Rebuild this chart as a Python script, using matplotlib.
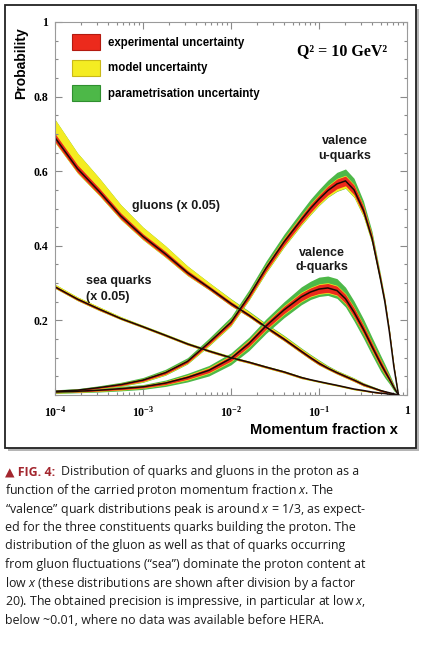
import matplotlib
matplotlib.use("Agg")
import matplotlib.pyplot as plt
import numpy as np
from matplotlib.patches import Patch, Rectangle
from matplotlib.ticker import MultipleLocator, LogLocator, NullFormatter

plt.rcParams['mathtext.fontset'] = 'custom'
plt.rcParams['mathtext.it'] = 'Open Sans:italic'
plt.rcParams['mathtext.rm'] = 'Open Sans'

# momentum fraction grid
x = [1e-4, 1.8e-4, 3.2e-4, 5.6e-4, 1e-3, 1.8e-3, 3.2e-3, 5.6e-3, 0.01, 0.016, 0.025, 0.04, 0.063,
     0.08, 0.1, 0.126, 0.16, 0.2, 0.25, 0.32, 0.4, 0.5, 0.56, 0.63, 0.71, 0.8]

# gluons (x 0.05)
glu = [0.69, 0.607, 0.545, 0.48, 0.425, 0.378, 0.328, 0.288, 0.245, 0.214, 0.182, 0.15, 0.117,
       0.1, 0.085, 0.072, 0.06, 0.05, 0.04, 0.028, 0.02, 0.012, 0.009, 0.006, 0.003, 0.0]
glu_exp = [0.011, 0.010, 0.009, 0.008, 0.007, 0.007, 0.006, 0.005, 0.005, 0.004, 0.004, 0.004, 0.004,
           0.004, 0.004, 0.003, 0.003, 0.003, 0.003, 0.003, 0.002, 0.002, 0.002, 0.001, 0.001, 0.0]
glu_mod_up = [0.038, 0.032, 0.027, 0.022, 0.018, 0.015, 0.012, 0.009, 0.007, 0.005, 0.004, 0.004, 0.003,
              0.003, 0.003, 0.002, 0.002, 0.002, 0.002, 0.001, 0.001, 0.001, 0.0, 0.0, 0.0, 0.0]
glu_mod_dn = [0.002] * 7 + [0.001] * 14 + [0.0] * 5
glu_par_up = [0.0] * 8 + [0.001, 0.002, 0.002, 0.002, 0.002, 0.002, 0.002, 0.002, 0.001, 0.001,
                          0.001, 0.001, 0.001, 0.0, 0.0, 0.0, 0.0, 0.0]
glu_par_dn = [0.0] * 26

# sea quarks (x 0.05)
sea = [0.29, 0.257, 0.23, 0.205, 0.183, 0.16, 0.137, 0.118, 0.1, 0.088, 0.075, 0.062, 0.047,
       0.041, 0.036, 0.031, 0.026, 0.021, 0.016, 0.012, 0.008, 0.005, 0.004, 0.002, 0.001, 0.0]
sea_exp = [0.003, 0.003, 0.003, 0.002, 0.002, 0.002, 0.002, 0.002, 0.002, 0.002, 0.002, 0.002, 0.002,
           0.001, 0.001, 0.001, 0.001, 0.001, 0.001, 0.001, 0.001, 0.001, 0.0, 0.0, 0.0, 0.0]
sea_mod_up = [0.004, 0.003, 0.003, 0.003, 0.002, 0.002, 0.002, 0.002, 0.002, 0.001, 0.001, 0.001, 0.001,
              0.001, 0.001, 0.001, 0.001, 0.001, 0.0, 0.0, 0.0, 0.0, 0.0, 0.0, 0.0, 0.0]
sea_mod_dn = [0.001] * 20 + [0.0] * 6
sea_par_up = [0.0] * 26
sea_par_dn = [0.0] * 26

# valence u-quarks
uv = [0.01, 0.013, 0.02, 0.028, 0.04, 0.06, 0.09, 0.14, 0.195, 0.265, 0.34, 0.41, 0.47,
      0.5, 0.525, 0.548, 0.566, 0.574, 0.55, 0.495, 0.42, 0.31, 0.25, 0.17, 0.075, 0.0]
uv_exp = [0.002, 0.002, 0.002, 0.003, 0.003, 0.004, 0.004, 0.005, 0.006, 0.007, 0.008, 0.009, 0.010,
          0.011, 0.011, 0.012, 0.013, 0.013, 0.013, 0.011, 0.009, 0.007, 0.006, 0.005, 0.004, 0.0]
uv_mod_up = [0.001] * 8 + [0.002] * 14 + [0.001] * 3 + [0.0]
uv_mod_dn = [0.001, 0.001, 0.001, 0.001, 0.002, 0.002, 0.002, 0.003, 0.003, 0.003, 0.004, 0.004, 0.004,
             0.005, 0.005, 0.005, 0.006, 0.006, 0.006, 0.005, 0.004, 0.003, 0.003, 0.002, 0.002, 0.0]
uv_par_up = [0.001, 0.001, 0.002, 0.002, 0.003, 0.004, 0.005, 0.006, 0.007, 0.008, 0.009, 0.010, 0.011,
             0.012, 0.013, 0.014, 0.016, 0.017, 0.016, 0.012, 0.008, 0.005, 0.004, 0.003, 0.002, 0.0]
uv_par_dn = [0.001] * 24 + [0.0, 0.0]

# valence d-quarks
dv = [0.008, 0.01, 0.013, 0.017, 0.022, 0.032, 0.047, 0.066, 0.098, 0.138, 0.185, 0.228, 0.263,
      0.276, 0.284, 0.287, 0.28, 0.258, 0.222, 0.176, 0.13, 0.085, 0.064, 0.043, 0.02, 0.0]
dv_exp = [0.002, 0.002, 0.002, 0.003, 0.003, 0.004, 0.005, 0.006, 0.007, 0.008, 0.009, 0.010, 0.011,
          0.011, 0.012, 0.012, 0.012, 0.012, 0.012, 0.011, 0.010, 0.009, 0.008, 0.006, 0.004, 0.0]
dv_mod_up = [0.001] * 6 + [0.002] * 17 + [0.001] * 2 + [0.0]
dv_mod_dn = [0.001] * 6 + [0.002] * 17 + [0.001] * 2 + [0.0]
dv_par_up = [0.001, 0.001, 0.001, 0.002, 0.002, 0.003, 0.004, 0.005, 0.006, 0.007, 0.008, 0.010, 0.014,
             0.016, 0.018, 0.018, 0.018, 0.017, 0.016, 0.015, 0.013, 0.011, 0.009, 0.007, 0.004, 0.0]
dv_par_dn = [0.001, 0.001, 0.002, 0.002, 0.003, 0.004, 0.005, 0.007, 0.008, 0.009, 0.009, 0.009, 0.008,
             0.007, 0.006, 0.006, 0.007, 0.008, 0.010, 0.011, 0.011, 0.010, 0.008, 0.006, 0.004, 0.0]

legend_labels = ['experimental uncertainty', 'model uncertainty', 'parametrisation uncertainty']

RED = '#ec2a1c'
YEL = '#f4ec22'
GRN = '#4db848'

W, H = 427, 655
fig = plt.figure(figsize=(W / 100, H / 100), dpi=100)


def fx(px):
    return px / W


def fy(py):
    return 1 - py / H


# outer frame with a soft shadow
fig.add_artist(Rectangle((fx(8), fy(451)), fx(411), (447 - 5) / H, transform=fig.transFigure,
                         facecolor='#b5b5b5', edgecolor='none', zorder=0))
fig.add_artist(Rectangle((fx(5), fy(448)), fx(411), (448 - 5) / H, transform=fig.transFigure,
                         facecolor='white', edgecolor='#222222', lw=1.3, zorder=0.5))

ax = fig.add_axes([fx(55), fy(395), (407 - 55) / W, (395 - 22) / H])
ax.set_zorder(1)

bands = [
    (glu, glu_exp, glu_mod_up, glu_mod_dn, glu_par_up, glu_par_dn),
    (sea, sea_exp, sea_mod_up, sea_mod_dn, sea_par_up, sea_par_dn),
    (dv, dv_exp, dv_mod_up, dv_mod_dn, dv_par_up, dv_par_dn),
    (uv, uv_exp, uv_mod_up, uv_mod_dn, uv_par_up, uv_par_dn),
]
for c, e, mu, md, pu, pd in bands:
    c, e, mu, md, pu, pd = map(np.array, (c, e, mu, md, pu, pd))
    ax.fill_between(x, c - e - md - pd, c + e + mu + pu, color=GRN, lw=0)
    ax.fill_between(x, c - e - md, c + e + mu, color=YEL, lw=0)
    ax.fill_between(x, c - e, c + e, color=RED, lw=0)
    ax.plot(x, c, color='#1a0a05', lw=1.1, solid_joinstyle='round')

ax.set_xscale('log')
ax.set_xlim(1e-4, 1)
ax.set_ylim(0, 1)

ax.set_xticks([1e-4, 1e-3, 1e-2, 1e-1, 1])
ax.set_xticklabels([r'$\mathdefault{10^{-4}}$', r'$\mathdefault{10^{-3}}$', r'$\mathdefault{10^{-2}}$',
                    r'$\mathdefault{10^{-1}}$', '1'])
ax.xaxis.set_minor_locator(LogLocator(base=10, subs=np.arange(2, 10)))
ax.xaxis.set_minor_formatter(NullFormatter())
ax.set_yticks([0.2, 0.4, 0.6, 0.8, 1.0])
ax.set_yticklabels(['0.2', '0.4', '0.6', '0.8', '1'])
ax.yaxis.set_minor_locator(MultipleLocator(0.05))

for lab in ax.get_xticklabels() + ax.get_yticklabels():
    lab.set_fontfamily('Liberation Serif')
    lab.set_fontweight('bold')
    lab.set_fontsize(8.5)

ax.tick_params(which='both', direction='in', top=True, right=True, color='#8a8a8a', width=0.8)
ax.tick_params(which='major', length=5, pad=5)
ax.tick_params(which='minor', length=2.5)
ax.tick_params(axis='x', pad=7)
for sp in ax.spines.values():
    sp.set_color('#9a9a9a')
    sp.set_linewidth(0.8)

handles = [Patch(facecolor=RED, edgecolor='#b31a10', lw=0.8),
           Patch(facecolor=YEL, edgecolor='#c9b818', lw=0.8),
           Patch(facecolor=GRN, edgecolor='#2f8f2f', lw=0.8)]
ax.legend(handles, legend_labels, loc='upper left', bbox_to_anchor=((72 - 55) / 352, (395 - 34) / 373),
          frameon=False, borderpad=0, borderaxespad=0, handlelength=2.4, handleheight=1.8,
          handletextpad=0.7, labelspacing=0.8,
          prop={'family': 'Liberation Sans', 'weight': 'bold', 'size': 8.3})

txt = dict(family='Liberation Sans', weight='bold', size=9, color='#1a1a1a')
fig.text(fx(297), fy(51), 'Q² = 10 GeV²', family='Liberation Serif', weight='bold', size=11.5,
         va='center', ha='left')
fig.text(fx(132), fy(206), 'gluons (x 0.05)', va='center', **txt)
fig.text(fx(86), fy(281), 'sea quarks', va='center', **txt)
fig.text(fx(86), fy(297), '(x 0.05)', va='center', **txt)
fig.text(fx(345), fy(141), 'valence', va='center', ha='center', **txt)
fig.text(fx(345), fy(156), 'u-quarks', va='center', ha='center', **txt)
fig.text(fx(322), fy(253), 'valence', va='center', ha='center', **txt)
fig.text(fx(322), fy(267), 'd-quarks', va='center', ha='center', **txt)

fig.text(fx(21), fy(27), 'Probability', rotation=90, ha='center', va='top',
         family='Liberation Sans', weight='bold', size=10)
fig.text(fx(398), fy(430), 'Momentum fraction x', ha='right', va='center',
         family='Liberation Sans', weight='bold', size=10.5)

# caption
caption = [
    'function of the carried proton momentum fraction $x$. The',
    '“valence” quark distributions peak is around $x$ = 1/3, as expect-',
    'ed for the three constituents quarks building the proton. The',
    'distribution of the gluon as well as that of quarks occurring',
    'from gluon fluctuations (“sea”) dominate the proton content at',
    'low $x$ (these distributions are shown after division by a factor',
    '20). The obtained precision is impressive, in particular at low $x$,',
    'below ~0.01, where no data was available before HERA.',
]
cap = dict(family='Open Sans', size=8.9, color='#1c1c1c', va='center', ha='left')
fig.text(fx(5), fy(472), '▲ FIG. 4:', family=['Open Sans', 'DejaVu Sans'], size=8.9,
         color='#a3262e', weight='bold', va='center', ha='left')
fig.text(fx(61), fy(472), 'Distribution of quarks and gluons in the proton as a', **cap)
for i, line in enumerate(caption):
    fig.text(fx(5), fy(490.5 + i * 18.5), line, **cap)

fig.savefig('out.png', dpi=100, facecolor='white')
